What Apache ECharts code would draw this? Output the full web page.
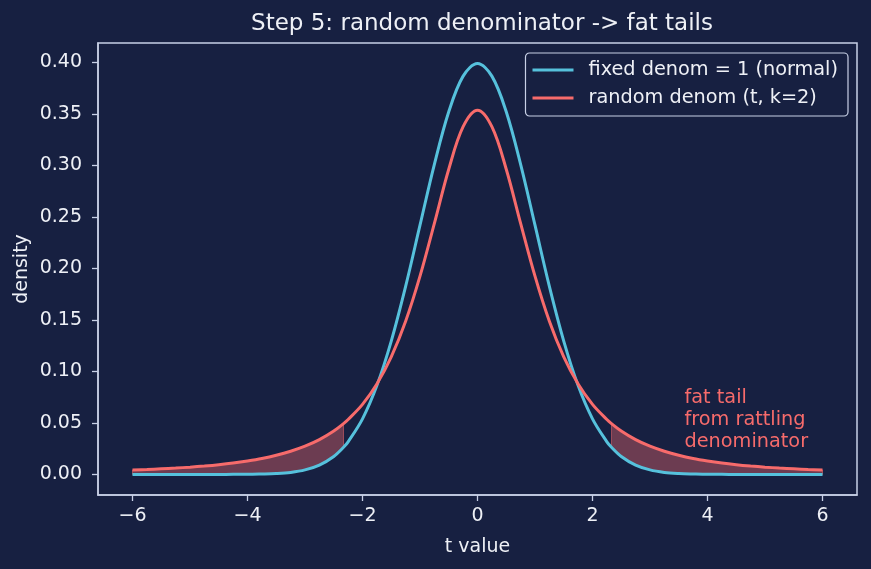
<!DOCTYPE html>
<html>
<head>
<meta charset="UTF-8">
<title>fat tails</title>
<script src="https://cdn.jsdelivr.net/npm/echarts@6/dist/echarts.min.js"></script>
<style>
  html, body { margin: 0; padding: 0; background: #172041; }
  #chart { width: 871px; height: 569px; }
</style>
</head>
<body>
<div id="chart"></div>
<script>
// t values on the x axis
var xs = [-6, -5.75, -5.5, -5.25, -5, -4.75, -4.5, -4.25, -4, -3.75, -3.5, -3.25, -3, -2.75, -2.5, -2.33, -2.25,
  -2, -1.75, -1.5, -1.25, -1, -0.75, -0.5, -0.25, 0, 0.25, 0.5, 0.75, 1, 1.25, 1.5, 1.75, 2,
  2.25, 2.33, 2.5, 2.75, 3, 3.25, 3.5, 3.75, 4, 4.25, 4.5, 4.75, 5, 5.25, 5.5, 5.75, 6];
// fixed denominator (normal)
var normalY = [0, 0, 0, 0, 0, 0, 0, 0.0001, 0.0001, 0.0004, 0.0009, 0.0020, 0.0044, 0.0091, 0.0175, 0.0264, 0.0317,
  0.0540, 0.0863, 0.1295, 0.1826, 0.2420, 0.3011, 0.3521, 0.3867, 0.3989, 0.3867, 0.3521, 0.3011, 0.2420, 0.1826, 0.1295, 0.0863, 0.0540,
  0.0317, 0.0264, 0.0175, 0.0091, 0.0044, 0.0020, 0.0009, 0.0004, 0.0001, 0.0001, 0, 0, 0, 0, 0, 0, 0];
// random denominator (t, k=2)
var tY = [0.0043, 0.0048, 0.0055, 0.0062, 0.0071, 0.0082, 0.0095, 0.0111, 0.0131, 0.0155, 0.0186, 0.0225, 0.0274, 0.0338, 0.0422, 0.0494, 0.0533,
  0.0680, 0.0878, 0.1141, 0.1487, 0.1925, 0.2438, 0.2963, 0.3376, 0.3536, 0.3376, 0.2963, 0.2438, 0.1925, 0.1487, 0.1141, 0.0878, 0.0680,
  0.0533, 0.0494, 0.0422, 0.0338, 0.0274, 0.0225, 0.0186, 0.0155, 0.0131, 0.0111, 0.0095, 0.0082, 0.0071, 0.0062, 0.0055, 0.0048, 0.0043];
var tailCut = 2.33;
var xTicks = [-6, -4, -2, 0, 2, 4, 6];
var yTicks = [0, 0.05, 0.1, 0.15, 0.2, 0.25, 0.3, 0.35, 0.4];
var seriesNames = ['fixed denom = 1 (normal)', 'random denom (t, k=2)'];
var noteText = 'fat tail\nfrom rattling\ndenominator';
var notePos = [3.6, 0.021];

var bg = '#172041';
var fg = '#eef0f6';
var spine = '#c8d0e6';
var blue = '#56c1dc';
var red = '#f76b6b';
var font = 'DejaVu Sans';

function pairs(ys) {
  var out = [];
  for (var i = 0; i < xs.length; i++) out.push([xs[i], ys[i]]);
  return out;
}

var chart = echarts.init(document.getElementById('chart'));

var option = {
  backgroundColor: bg,
  animation: false,
  textStyle: { fontFamily: font },
  title: {
    text: 'Step 5: random denominator -> fat tails',
    left: 477,
    textAlign: 'center',
    top: 8,
    textStyle: { color: fg, fontSize: 23, fontWeight: 'normal', fontFamily: font }
  },
  legend: {
    data: seriesNames,
    orient: 'vertical',
    right: 23,
    top: 53,
    icon: 'rect',
    itemWidth: 41,
    itemHeight: 3,
    itemGap: 8,
    padding: [7, 10, 8, 7],
    backgroundColor: bg,
    borderColor: spine,
    borderWidth: 1.2,
    borderRadius: 4,
    textStyle: { color: fg, fontSize: 19.3, lineHeight: 20, padding: [0, 0, 0, 10], fontFamily: font }
  },
  grid: {
    left: 98, right: 14, top: 43, bottom: 74,
    show: true, borderColor: spine, borderWidth: 1.5,
    outerBoundsMode: 'none'
  },
  xAxis: {
    type: 'value',
    min: -6.6, max: 6.6,
    name: 't value',
    nameLocation: 'middle',
    nameGap: 43,
    nameMoveOverlap: false,
    nameTextStyle: { color: fg, fontSize: 19, fontFamily: font },
    splitLine: { show: false },
    axisLine: { show: true, onZero: false, lineStyle: { color: spine, width: 1.5 } },
    axisTick: { show: true, length: 6, customValues: xTicks, lineStyle: { color: spine, width: 1.3 } },
    axisLabel: {
      color: fg, fontSize: 19, margin: 12, fontFamily: font, customValues: xTicks,
      formatter: function (v) { return String(v).replace('-', '\u2212'); }
    }
  },
  yAxis: {
    type: 'value',
    min: -0.01995, max: 0.41885,
    name: 'density',
    nameLocation: 'middle',
    nameGap: 66,
    nameMoveOverlap: false,
    nameTextStyle: { color: fg, fontSize: 19, fontFamily: font },
    splitLine: { show: false },
    axisLine: { show: true, onZero: false, lineStyle: { color: spine, width: 1.5 } },
    axisTick: { show: true, length: 6, customValues: yTicks, lineStyle: { color: spine, width: 1.3 } },
    axisLabel: {
      color: fg, fontSize: 19, margin: 16, fontFamily: font, customValues: yTicks,
      formatter: function (v) { return v.toFixed(2); }
    }
  },
  series: [
    {
      name: 'tails',
      type: 'custom',
      silent: true,
      z: 1,
      data: [[-1, 0], [1, 0]],
      renderItem: function (params, api) {
        var side = params.dataIndex === 0 ? -1 : 1;
        var top = [], bottom = [];
        for (var i = 0; i < xs.length; i++) {
          if (xs[i] * side >= tailCut - 1e-9) {
            top.push(api.coord([xs[i], tY[i]]));
            bottom.push(api.coord([xs[i], normalY[i]]));
          }
        }
        var pts = top.concat(bottom.reverse());
        return {
          type: 'polygon',
          shape: { points: pts },
          style: { fill: 'rgba(247,107,107,0.38)', stroke: 'rgba(247,107,107,0.5)', lineWidth: 1 }
        };
      }
    },
    {
      name: seriesNames[0],
      type: 'line',
      data: pairs(normalY),
      smooth: 0.35,
      showSymbol: false,
      z: 3,
      itemStyle: { color: blue },
      lineStyle: { color: blue, width: 3 }
    },
    {
      name: seriesNames[1],
      type: 'line',
      data: pairs(tY),
      smooth: 0.35,
      showSymbol: false,
      z: 4,
      itemStyle: { color: red },
      lineStyle: { color: red, width: 3 }
    },
    {
      name: 'note',
      type: 'custom',
      silent: true,
      z: 5,
      data: [notePos],
      renderItem: function (params, api) {
        var p = api.coord([api.value(0), api.value(1)]);
        return {
          type: 'text',
          x: p[0], y: p[1],
          style: {
            text: noteText,
            fill: red,
            font: '19.3px "' + font + '"',
            lineHeight: 22,
            textAlign: 'left',
            textVerticalAlign: 'bottom'
          }
        };
      }
    }
  ]
};

chart.setOption(option);
</script>
</body>
</html>
